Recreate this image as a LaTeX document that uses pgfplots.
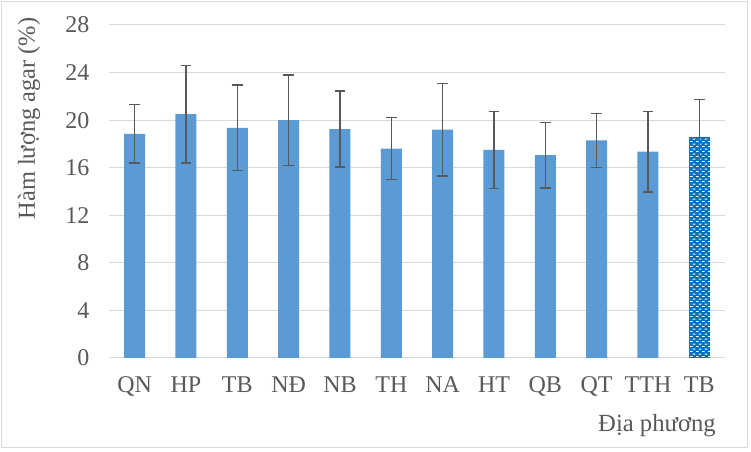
\documentclass[border=0pt]{standalone}
\usepackage{pgfplots}
\pgfplotsset{compat=1.18}
\usepackage{fontspec}
\setmainfont{Liberation Serif}
\usetikzlibrary{patterns}
\definecolor{barblue}{HTML}{5B9BD5}
\definecolor{patblue}{HTML}{0070C0}
\definecolor{txtgray}{HTML}{595959}
\definecolor{gridgray}{HTML}{D9D9D9}
\pgfdeclarepatternformonly{excelchk}{\pgfpointorigin}{\pgfpoint{4.5pt}{4pt}}{\pgfpoint{4.5pt}{4pt}}{%
  \pgfpathrectangle{\pgfpoint{0pt}{0pt}}{\pgfpoint{2.25pt}{0.8pt}}%
  \pgfpathrectangle{\pgfpoint{2.25pt}{2pt}}{\pgfpoint{2.25pt}{0.8pt}}%
  \pgfusepath{fill}}
\begin{document}
\begin{tikzpicture}
\fill[white] (-81.75pt,-70.5pt) rectangle (481.5pt,268.5pt);
\draw[gridgray, line width=0.75pt] (-80.25pt,-67.5pt) rectangle (478.5pt,267pt);
\begin{axis}[
  at={(0,0)}, anchor=south west,
  scale only axis, width=462pt, height=249.75pt,
  ybar, bar width=15.75pt, bar shift=0pt,
  xmin=-0.5, xmax=11.5, ymin=0, ymax=28,
  ytick={0,4,...,28},
  xtick={0,...,11},
  xticklabels={QN,HP,TB,NĐ,NB,TH,NA,HT,QB,QT,TTH,TB},
  axis line style={draw=none},
  major tick length=0pt,
  ymajorgrids, major grid style={gridgray, line width=0.75pt},
  tick label style={font=\fontsize{18}{21}\selectfont, text=txtgray, inner sep=0pt},
  /pgf/number format/assume math mode=true,
  xticklabel style={anchor=base, yshift=-26.25pt},
  yticklabel style={anchor=east, xshift=-14.5pt},
  error bars/error bar style={color=txtgray, line width=1pt},
  error bars/error mark options={rotate=90, mark size=4.1pt, line width=1pt, color=txtgray},
]
\addplot[fill=barblue, draw=none, error bars/.cd, y dir=both, y explicit]
  coordinates {
  (0,18.85) +- (0,2.45)
  (1,20.5) +- (0,4.1)
  (2,19.35) +- (0,3.6)
  (3,20.0) +- (0,3.8)
  (4,19.25) +- (0,3.2)
  (5,17.6) +- (0,2.6)
  (6,19.2) +- (0,3.9)
  (7,17.5) +- (0,3.25)
  (8,17.05) +- (0,2.75)
  (9,18.3) +- (0,2.27)
  (10,17.35) +- (0,3.4)
  };
\addplot[fill=patblue, draw=none, postaction={pattern=excelchk, pattern color=white}, error bars/.cd, y dir=both, y explicit]
  coordinates {
  (11,18.55) +- (0,3.2)
  };
\end{axis}
\node[rotate=90, anchor=base, text=txtgray, font=\fontsize{18.3}{21}\selectfont] at (-55.5pt,179.6pt) {Hàm lượng agar (\%)};
\node[anchor=base east, text=txtgray, font=\fontsize{18.5}{21}\selectfont, inner sep=0pt] at (455.25pt,-55.5pt) {Địa phương};
\end{tikzpicture}
\end{document}
